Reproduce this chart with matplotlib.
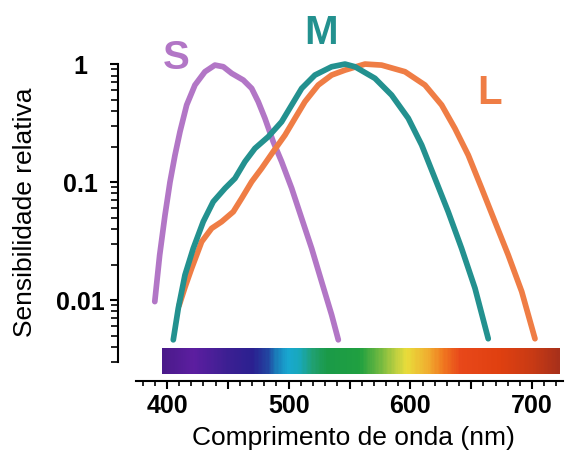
import numpy as np
import matplotlib
matplotlib.use("Agg")
import matplotlib.pyplot as plt
from matplotlib.colors import LinearSegmentedColormap
from matplotlib.ticker import FixedLocator, NullFormatter

plt.rcParams['font.family'] = ['Liberation Sans', 'DejaVu Sans']

# cone sensitivity curves
s_nm = [390, 394, 398.4, 402.5, 406.6, 410.7, 416.2, 423, 431.2, 439.4, 446.3, 453.2, 462.7, 469.6,
        475, 480.5, 487.3, 494.2, 502.5, 510.7, 518.9, 527.1, 535.3, 540.8]
s_val = [0.0097, 0.024, 0.0525, 0.10, 0.169, 0.267, 0.45, 0.664, 0.861, 0.98, 0.949, 0.834, 0.732, 0.622,
         0.48, 0.347, 0.22, 0.149, 0.0885, 0.0492, 0.0274, 0.0143, 0.0075, 0.0046]

m_nm = [405.2, 409.3, 414.8, 421.6, 429.8, 438, 447.7, 455.9, 464.1, 472.3, 483.2, 494.2, 502.5, 510.7,
        521.6, 535.3, 546.3, 554.5, 570.9, 584.6, 598.3, 609.3, 620.2, 631.1, 642.1, 653.1, 664]
m_val = [0.0046, 0.0085, 0.0163, 0.0274, 0.0461, 0.0681, 0.0885, 0.1075, 0.149, 0.193, 0.242, 0.324, 0.45, 0.622,
         0.807, 0.949, 1.0, 0.949, 0.757, 0.546, 0.347, 0.206, 0.1075, 0.056, 0.0274, 0.0126, 0.0047]

l_nm = [410, 415, 420.3, 428.5, 436.7, 444.9, 454.5, 461.4, 469.6, 477.8, 487.3, 497, 505.2, 513.4, 524.3,
        535.3, 546.3, 562.7, 576.4, 595.6, 612, 625.7, 636.6, 647.6, 658.6, 669.5, 680.4, 691.5, 702.4]
l_val = [0.009, 0.013, 0.0186, 0.0312, 0.0405, 0.0461, 0.056, 0.0728, 0.1006, 0.1306, 0.181, 0.25, 0.347, 0.48, 0.664,
         0.807, 0.889, 1.0, 0.98, 0.861, 0.664, 0.45, 0.285, 0.169, 0.0885, 0.0461, 0.0241, 0.0118, 0.0047]

# spectrum bar colour stops
spec_nm = [396, 421, 449, 470, 482, 489, 499, 509, 520, 531, 559, 575, 589, 597, 614, 627, 641, 674, 701, 723]
spec_col = ['#4a1a8a', '#5c1ea0', '#3c1f92', '#2a2090', '#2244a0', '#1a7ab8', '#18a8d0', '#18a8b8',
            '#20a070', '#1a9a48', '#20a040', '#70b840', '#c0d040', '#e8dc3a', '#f0b030', '#f07a20',
            '#e8481a', '#e04010', '#c83a14', '#a8301a']

x_ticks = [400, 450, 500, 550, 600, 650, 700]
x_labels = ['400', '', '500', '', '600', '', '700']

fig = plt.figure(figsize=(5.78, 4.54), dpi=100)
ax = fig.add_axes([0.204, 0.1608, 0.770, 0.795])
ax.set_yscale('log')

kw = dict(lw=4.1, solid_capstyle='round', solid_joinstyle='round')
ax.plot(s_nm, s_val, color='#b276c6', **kw)
ax.plot(l_nm, l_val, color='#ef7d45', **kw)
ax.plot(m_nm, m_val, color='#23918f', **kw)

# spectrum strip
pos = [(w - spec_nm[0]) / (spec_nm[-1] - spec_nm[0]) for w in spec_nm]
cmap = LinearSegmentedColormap.from_list('spec', list(zip(pos, spec_col)))
xs = np.linspace(spec_nm[0], spec_nm[-1], 300)
ax.pcolormesh(xs, [0.00236, 0.0039], xs[:-1][None, :], cmap=cmap, shading='flat')

ax.set_xlim(359.7, 725.4)
ax.set_ylim(0.00206, 2.36)

for sp in ['top', 'right']:
    ax.spines[sp].set_visible(False)
ax.spines['left'].set_bounds(0.003, 1)
ax.spines['bottom'].set_bounds(374.5, 725.4)
ax.spines['left'].set_linewidth(1.5)
ax.spines['bottom'].set_linewidth(1.5)

ax.set_xticks(x_ticks)
ax.set_xticklabels(x_labels)
ax.xaxis.set_minor_locator(FixedLocator(list(range(380, 730, 10))))
ax.set_yticks([0.01, 0.1, 1])
ax.set_yticklabels(['0.01', '0.1', '1'])
ax.yaxis.set_minor_locator(FixedLocator([k * 10.0 ** e for e in (-3, -2, -1) for k in range(2, 10) if k * 10.0 ** e >= 0.003]))
ax.yaxis.set_minor_formatter(NullFormatter())
ax.tick_params(axis='both', which='major', length=6, width=1.5, labelsize=18)
ax.tick_params(axis='x', which='minor', length=3.5, width=1.2)
ax.tick_params(axis='y', which='minor', length=5, width=1.2)
ax.tick_params(axis='y', which='major', pad=21)
for lab in ax.get_xticklabels() + ax.get_yticklabels():
    lab.set_fontweight('bold')
for lab in ax.get_yticklabels():
    lab.set_horizontalalignment('center')

ax.set_ylabel('Sensibilidade relativa', fontsize=19)
ax.yaxis.set_label_coords(-0.182, 0.468)
ax.set_xlabel('Comprimento de onda (nm)', fontsize=19)
ax.xaxis.set_label_coords(0.530, -0.125)

ax.text(408, 1.12, 'S', color='#b276c6', fontsize=29, fontweight='bold', ha='center', va='center')
ax.text(527, 1.85, 'M', color='#23918f', fontsize=29, fontweight='bold', ha='center', va='center')
ax.text(665, 0.57, 'L', color='#ef7d45', fontsize=29, fontweight='bold', ha='center', va='center')

fig.savefig('out.png', dpi=100)
